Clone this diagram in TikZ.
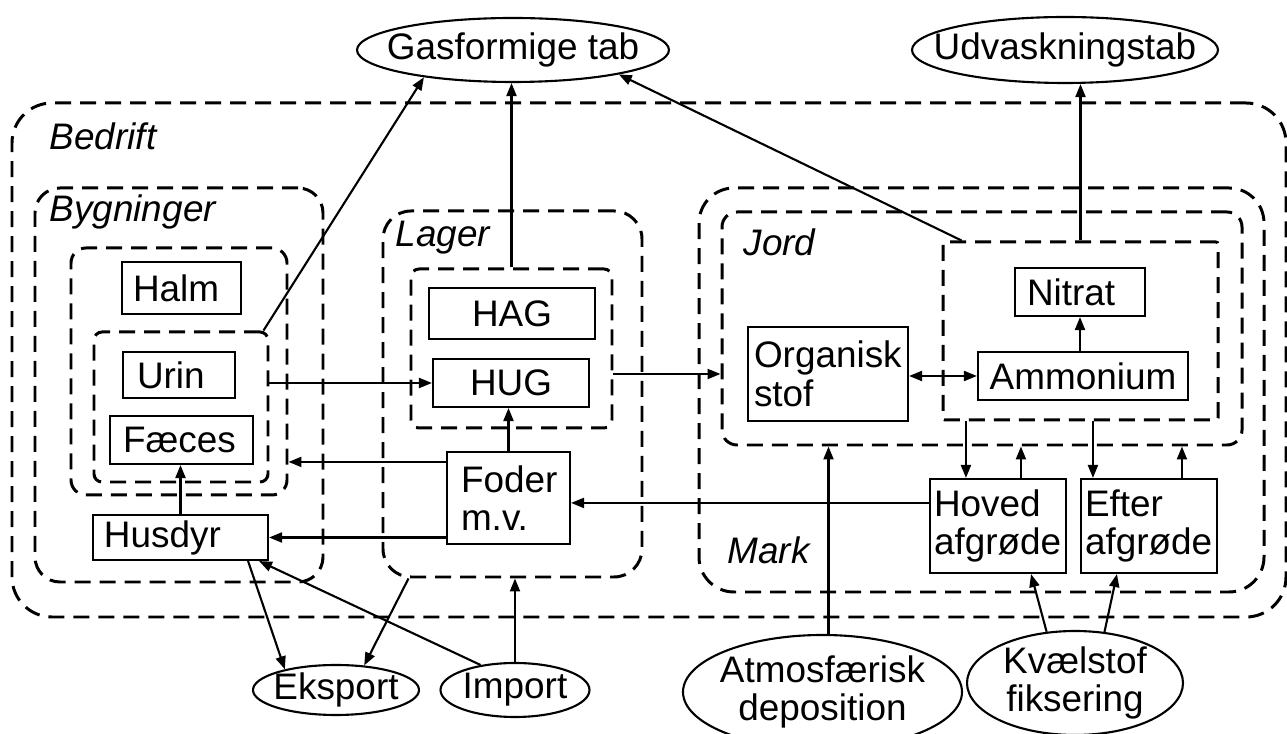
\documentclass[tikz,border=0pt]{standalone}
\usepackage{fontspec}
\setmainfont{Liberation Sans}
\usepackage{tikz}
\usetikzlibrary{arrows.meta, shapes.geometric}

\tikzset{
  omr/.style={draw, line width=0.85pt, dash pattern=on 0.16cm off 0.09cm, inner sep=0pt},
  boks/.style={draw, line width=0.6pt, inner ysep=0pt},
  vboks/.style 2 args={boks, text width=#1, inner xsep=#2, align=left},
  elli/.style={draw, ellipse, line width=0.6pt, inner sep=0pt},
  navn/.style={font=\fontsize{10.5}{11}\selectfont\itshape, anchor=base west, inner sep=0pt},
  pil/.style={-{Triangle[length=0.13cm,width=0.1cm]}, line width=0.6pt},
  dpil/.style={{Triangle[length=0.13cm,width=0.1cm]}-{Triangle[length=0.13cm,width=0.1cm]}, line width=0.6pt}
}

\begin{document}
\begin{tikzpicture}[font=\fontsize{10.5}{11}\selectfont]
  \useasboundingbox (0,0) rectangle (12.87,-7.34);

  % Områder (stiplede)
  \node[omr, minimum width=12.74cm, minimum height=5.14cm, rounded corners=0.40cm] (bed) at (6.49,-3.60) {};
  \node[omr, minimum width=2.88cm, minimum height=3.94cm, rounded corners=0.25cm] (byg) at (1.79,-3.85) {};
  \node[omr, minimum width=2.16cm, minimum height=2.47cm, rounded corners=0.15cm] (hf) at (1.79,-3.715) {};
  \node[omr, minimum width=1.74cm, minimum height=1.50cm, rounded corners=0.08cm] (uf) at (1.81,-4.07) {};
  \node[omr, minimum width=2.59cm, minimum height=3.66cm, rounded corners=0.28cm] (lag) at (5.125,-3.94) {};
  \node[omr, minimum width=2.01cm, minimum height=1.59cm, rounded corners=0.08cm] (hh) at (5.115,-3.485) {};
  \node[omr, minimum width=5.65cm, minimum height=4.04cm, rounded corners=0.35cm] (mark) at (9.815,-3.90) {};
  \node[omr, minimum width=5.20cm, minimum height=2.33cm, rounded corners=0.15cm] (jord) at (9.82,-3.285) {};
  \node[omr, minimum width=2.75cm, minimum height=1.78cm, rounded corners=0.02cm] (nn) at (10.805,-3.31) {};

  % Navne på områder
  \node[navn] (lbed) at (0.49,-1.50) {Bedrift};
  \node[navn] (lbyg) at (0.49,-2.22) {Bygninger};
  \node[navn] (llag) at (3.95,-2.47) {Lager};
  \node[navn] (ljord) at (7.43,-2.56) {Jord};
  \node[navn] (lmark) at (7.27,-5.64) {Mark};

  % Kasser
  \node[vboks={0.97cm}{0.11cm}, minimum height=0.52cm] (halm) at (1.815,-2.88) {Halm};
  \node[vboks={0.84cm}{0.14cm}, minimum height=0.46cm] (urin) at (1.79,-3.75) {Urin};
  \node[vboks={1.17cm}{0.13cm}, minimum height=0.48cm] (fae) at (1.815,-4.40) {Fæces};
  \node[vboks={1.53cm}{0.11cm}, minimum height=0.45cm] (hus) at (1.805,-5.375) {Husdyr};
  \node[boks, minimum width=1.66cm, minimum height=0.51cm] (hag) at (5.12,-3.135) {HAG};
  \node[boks, minimum width=1.56cm, minimum height=0.48cm] (hug) at (5.11,-3.83) {HUG};
  \node[vboks={0.95cm}{0.14cm}, minimum height=0.92cm] (fod) at (5.085,-4.98) {Foder\\m.v.};
  \node[vboks={1.48cm}{0.06cm}, minimum height=0.94cm] (org) at (8.28,-3.74) {Organisk\\stof};
  \node[vboks={1.06cm}{0.12cm}, minimum height=0.48cm] (nit) at (10.80,-2.92) {Nitrat};
  \node[boks, minimum width=2.04cm, minimum height=0.48cm] (amm) at (10.83,-3.76) {Ammonium};
  \node[vboks={1.28cm}{0.04cm}, minimum height=0.94cm] (hov) at (9.98,-5.26) {Hoved\\afgrøde};
  \node[vboks={1.28cm}{0.04cm}, minimum height=0.94cm] (eft) at (11.49,-5.26) {Efter\\afgrøde};

  % Ellipser
  \node[elli, minimum width=3.12cm, minimum height=0.64cm, label=center:Gasformige tab] (gas) at (5.13,-0.50) {};
  \node[elli, minimum width=3.06cm, minimum height=0.66cm, label=center:Udvaskningstab] (udv) at (10.65,-0.50) {};
  \node[elli, minimum width=1.66cm, minimum height=0.50cm, label=center:Eksport] (eks) at (3.36,-6.90) {};
  \node[elli, minimum width=1.49cm, minimum height=0.54cm, label=center:Import] (imp) at (5.15,-6.90) {};
  \node[elli, minimum width=2.79cm, minimum height=1.14cm, label={[align=center]center:Atmosfærisk\\deposition}] (atm) at (8.225,-6.92) {};
  \node[elli, minimum width=2.16cm, minimum height=1.04cm, label={[align=center]center:Kvælstof\\fiksering}] (kv) at (10.75,-6.83) {};

  % Hjælpepunkter
  \coordinate (f1) at ([yshift=-0.11cm]fod.north west);
  \coordinate (h0) at ([yshift=-0.25cm]hov.north west);
  \coordinate (h1) at ([xshift=0.37cm]hov.north west);
  \coordinate (h2) at ([xshift=0.92cm]hov.north west);
  \coordinate (e1) at ([xshift=0.13cm]eft.north west);
  \coordinate (e2) at ([xshift=1.02cm]eft.north west);
  \coordinate (a1) at ([xshift=0.06cm]atm.north);

  % Tab
  \draw[pil] ([xshift=-0.06cm]uf.north east) -- (gas.197);
  \draw[pil] (hh.north) -- (hh.north |- gas.south);
  \draw[pil] ([xshift=0.2cm]nn.north west) -- (gas.-13);
  \draw[pil] (nn.north) -- (nn.north |- udv.south);

  % Strømme i bedriften
  \draw[pil] (uf.east |- hug.west) -- (hug.west);
  \draw[pil] (hh.east |- org.west) -- (jord.west |- org.west);
  \draw[dpil] (org.east |- amm.west) -- (amm.west);
  \draw[pil] (amm.north -| nit.south) -- (nit.south);
  \draw[pil] (fod.north) -- (fod.north |- hug.south);
  \draw[pil] (f1) -- (f1 -| hf.east);
  \draw[pil] (fod.west |- hus.east) -- (hus.east);
  \draw[pil] (hus.north) -- (hus.north |- fae.south);
  \draw[pil] (h0) -- (h0 -| fod.east);
  \draw[pil] (h1 |- nn.south) -- (h1);
  \draw[pil] (h2) -- (h2 |- jord.south);
  \draw[pil] (e1 |- nn.south) -- (e1);
  \draw[pil] (e2) -- (e2 |- jord.south);

  % Tilførsler og eksport
  \draw[pil] (a1) -- (a1 |- jord.south);
  \draw[pil] (kv.119) -- ([xshift=-0.36cm]hov.south east);
  \draw[pil] (kv.60) -- ([xshift=0.37cm]eft.south west);
  \draw[pil] ([xshift=-0.21cm]hus.south east) -- (eks.158);
  \draw[pil] ([xshift=0.27cm]lag.south west) -- (eks.41);
  \draw[pil] (imp.144) -- ([xshift=-0.1cm]hus.south east);
  \draw[pil] (imp.north) -- (imp.north |- lag.south);

\end{tikzpicture}
\end{document}
